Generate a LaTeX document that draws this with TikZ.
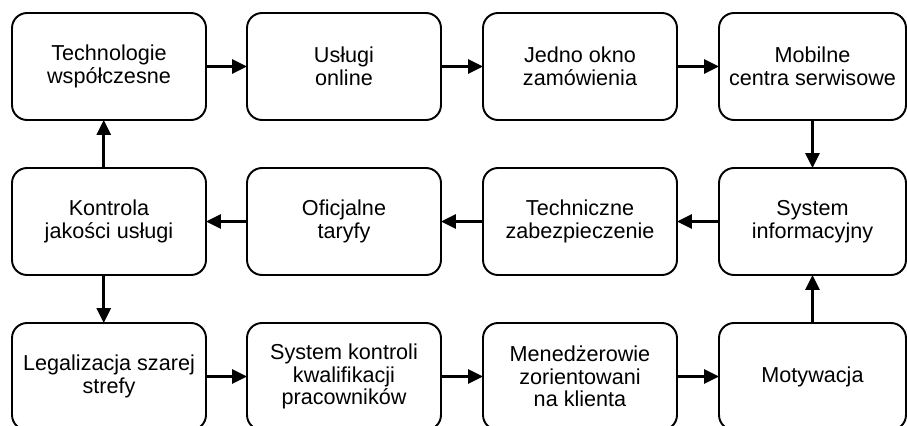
\documentclass[tikz,border=0pt]{standalone}
\usepackage{fontspec}
\setmainfont{Liberation Sans}
\usepackage{tikz}
\usetikzlibrary{arrows.meta,positioning}

\tikzset{
	box/.style={draw, line width=1.1pt, rounded corners=0.3cm, align=center,
		minimum width=3.88cm, minimum height=2.14cm, inner sep=2pt, outer sep=0pt,
		font=\fontsize{12.3}{12.9}\selectfont},
	lastbox/.style={box, minimum width=3.74cm},
	arr/.style={line width=1.7pt, -{Triangle[length=0.3cm, width=0.28cm]}}
}

\begin{document}
\begin{tikzpicture}[x=0.02cm, y=-0.02cm]
	\useasboundingbox (0,0) rectangle (907,426);
	% row 1
	\node[box] (1) at (109,66.5) {Technologie\\współczesne};
	\node[box] (2) at (344,66.5) {Usługi\\online};
	\node[box] (3) at (580,66.5) {Jedno okno\\zamówienia};
	\node[lastbox] (4) at (812.5,66.5) {Mobilne\\centra serwisowe};
	% row 2
	\node[lastbox] (5) at (812.5,221.5) {System\\informacyjny};
	\node[box] (6) at (580,221.5) {Techniczne\\zabezpieczenie};
	\node[box] (7) at (344,221.5) {Oficjalne\\taryfy};
	\node[box] (8) at (109,221.5) {Kontrola\\jakości usługi};
	% row 3
	\node[box] (9) at (109,376.5) {Legalizacja szarej\\strefy};
	\node[box] (10) at (344,376.5) {System kontroli\\kwalifikacji\\pracowników};
	\node[box] (11) at (580,376.5) {Menedżerowie\\zorientowani\\na klienta};
	\node[lastbox] (12) at (812.5,376.5) {Motywacja};
	
	\draw[arr] (1) -- (2);
	\draw[arr] (2) -- (3);
	\draw[arr] (3) -- (4);
	\draw[arr] (4) -- (5);
	\draw[arr] (5) -- (6);
	\draw[arr] (6) -- (7);
	\draw[arr] (7) -- (8);
	\draw[arr] ([xshift=-3]8.north) -- ([xshift=-3]1.south);
	\draw[arr] ([xshift=-3]8.south) -- ([xshift=-3]9.north);
	\draw[arr] (9) -- (10);
	\draw[arr] (10) -- (11);
	\draw[arr] (11) -- (12);
	\draw[arr] (12) -- (5);
\end{tikzpicture}
\end{document}
